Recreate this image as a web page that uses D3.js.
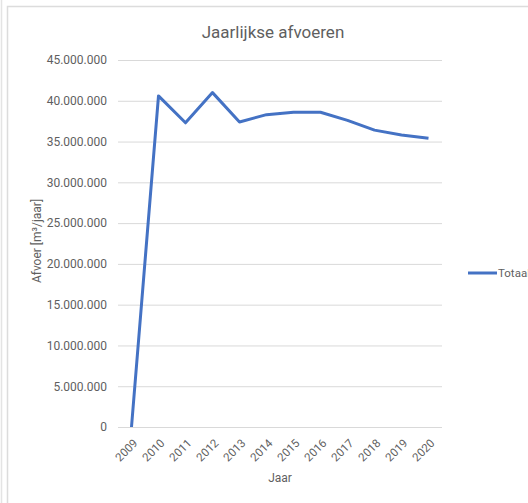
<!DOCTYPE html>
<html>
<head>
<meta charset="utf-8">
<script src="https://cdn.jsdelivr.net/npm/d3@7"></script>
<style>
  html, body { margin: 0; padding: 0; background: #fff; }
  svg { display: block; }
  text { font-family: Roboto, "Liberation Sans", Arial, sans-serif; fill: #5f5f5f; }
</style>
</head>
<body>
<svg id="chart" width="528" height="503"></svg>
<script>
// Yearly discharge totals (m³ per year)
const years = ["2009","2010","2011","2012","2013","2014","2015","2016","2017","2018","2019","2020"];
const totals = [0, 40600000, 37300000, 41000000, 37400000, 38300000, 38600000, 38600000, 37600000, 36400000, 35800000, 35400000];
const yTicks = [0, 5000000, 10000000, 15000000, 20000000, 25000000, 30000000, 35000000, 40000000, 45000000];
const seriesName = "Totaal";

const svg = d3.select("#chart");
const FONT = "Roboto, 'Liberation Sans', Arial, sans-serif";
const TEXT = "#5f5f5f";

// Chart frame
svg.append("line").attr("x1", 1.5).attr("x2", 1.5).attr("y1", 0).attr("y2", 503)
  .attr("stroke", "#e4e4e4").attr("stroke-width", 1.5);
svg.append("path").attr("d", "M7.5,503 V6.5 H528")
  .attr("fill", "none").attr("stroke", "#dcdcdc").attr("stroke-width", 1.5);

const plot = { left: 118, right: 442, top: 60, bottom: 427 };

const x = d3.scaleBand().domain(years).range([plot.left, plot.right]);
const y = d3.scaleLinear().domain([0, 45000000]).range([plot.bottom, plot.top]);

const fmt = v => d3.format(",")(v).replace(/,/g, ".");

// Horizontal gridlines
svg.append("g").selectAll("line").data(yTicks).join("line")
  .attr("x1", plot.left).attr("x2", plot.right)
  .attr("y1", d => y(d) + 0.5).attr("y2", d => y(d) + 0.5)
  .attr("stroke", "#d9d9d9").attr("stroke-width", 1);

// Y axis labels
const yAxis = d3.axisLeft(y).tickValues(yTicks).tickFormat(fmt).tickSize(0).tickPadding(0);
const gy = svg.append("g").attr("transform", `translate(${plot.left - 11},0)`).call(yAxis);
gy.select(".domain").remove();
gy.selectAll("text").attr("font-size", 12).attr("fill", TEXT).attr("font-family", FONT);

// X axis labels, rotated 45 degrees and ending at each tick
const xAxis = d3.axisBottom(x).tickSize(0).tickPadding(0);
const gx = svg.append("g").attr("transform", `translate(0,${plot.bottom})`).call(xAxis);
gx.select(".domain").remove();
gx.selectAll("text")
  .attr("font-size", 11.5).attr("fill", TEXT).attr("font-family", FONT)
  .attr("text-anchor", "end")
  .attr("x", 0).attr("y", 0)
  .attr("dy", "0.35em")
  .attr("transform", "translate(4,14) rotate(-45)");

// Data line
const line = d3.line().x((d, i) => x(years[i]) + x.bandwidth() / 2).y(d => y(d));
svg.append("path").datum(totals)
  .attr("d", line)
  .attr("fill", "none")
  .attr("stroke", "#4472C4")
  .attr("stroke-width", 3)
  .attr("stroke-linejoin", "round");

// Title
svg.append("text").attr("x", 273).attr("y", 38).attr("text-anchor", "middle")
  .attr("font-size", 17).text("Jaarlijkse afvoeren");

// Axis titles
svg.append("text").attr("x", 280).attr("y", 482).attr("text-anchor", "middle")
  .attr("font-size", 12).text("Jaar");
svg.append("text").attr("transform", "translate(41,241) rotate(-90)").attr("text-anchor", "middle")
  .attr("font-size", 12).text("Afvoer [m³/jaar]");

// Legend
svg.append("line").attr("x1", 468).attr("x2", 497).attr("y1", 273).attr("y2", 273)
  .attr("stroke", "#4472C4").attr("stroke-width", 3);
svg.append("text").attr("x", 498).attr("y", 277).attr("font-size", 11.5).text(seriesName);
</script>
</body>
</html>
